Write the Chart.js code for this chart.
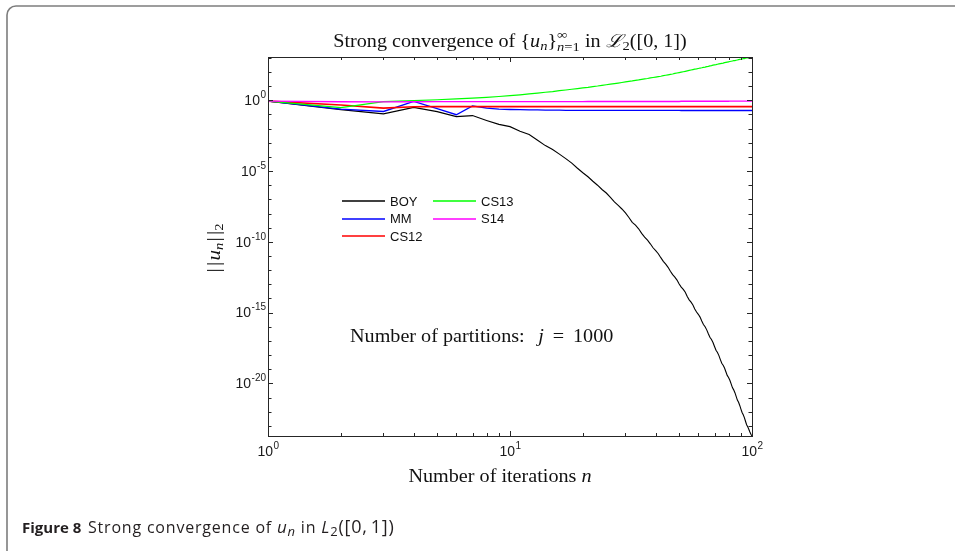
<!DOCTYPE html>
<html>
<head>
<meta charset="utf-8">
<script src="https://cdn.jsdelivr.net/npm/chart.js@4/dist/chart.umd.min.js"></script>
<style>
  html, body { margin: 0; padding: 0; background: #ffffff; }
  #wrap { width: 955px; height: 551px; position: relative; }
</style>
</head>
<body>
<div id="wrap"><canvas id="chart" width="955" height="551"></canvas></div>
<script>
// Iteration counts n = 1 .. 100
const iterations = [
  1, 2, 3, 4, 5, 6, 7, 8, 9, 10, 11, 12, 13, 14, 15, 16, 17, 18, 19, 20,
  21, 22, 23, 24, 25, 26, 27, 28, 29, 30, 31, 32, 33, 34, 35, 36, 37, 38, 39, 40,
  41, 42, 43, 44, 45, 46, 47, 48, 49, 50, 51, 52, 53, 54, 55, 56, 57, 58, 59, 60,
  61, 62, 63, 64, 65, 66, 67, 68, 69, 70, 71, 72, 73, 74, 75, 76, 77, 78, 79, 80,
  81, 82, 83, 84, 85, 86, 87, 88, 89, 90, 91, 92, 93, 94, 95, 96, 97, 98, 99, 100
];

// Norms ||u_n||_2 for each method, stored as decimal exponents (log10 of the norm)
const boyLog10 = [
  -0.06, -0.66, -0.96, -0.50, -0.80, -1.15, -1.08, -1.42, -1.70, -1.86,
  -2.18, -2.42, -2.82, -3.20, -3.48, -3.80, -4.12, -4.44, -4.80, -5.12,
  -5.40, -5.72, -6.00, -6.30, -6.55, -6.86, -7.18, -7.42, -7.68, -7.96,
  -8.28, -8.62, -8.82, -9.08, -9.40, -9.66, -9.88, -10.14, -10.42, -10.62,
  -10.84, -11.12, -11.38, -11.58, -11.80, -12.08, -12.32, -12.50, -12.70, -12.98,
  -13.20, -13.36, -13.56, -13.86, -14.10, -14.26, -14.46, -14.74, -14.96, -15.12,
  -15.32, -15.60, -15.84, -16.00, -16.22, -16.50, -16.74, -16.90, -17.12, -17.40,
  -17.66, -17.82, -18.04, -18.32, -18.58, -18.72, -18.92, -19.18, -19.44, -19.58,
  -19.78, -20.04, -20.30, -20.46, -20.66, -20.92, -21.18, -21.34, -21.56, -21.82,
  -22.06, -22.22, -22.42, -22.68, -22.92, -23.06, -23.24, -23.44, -23.60, -23.72
];
const mmLog10 = [
  -0.06, -0.62, -0.79, -0.08, -0.58, -1.02, -0.40, -0.55, -0.63, -0.65,
  -0.66, -0.67, -0.68, -0.69, -0.70, -0.70, -0.71, -0.71, -0.71, -0.71,
  -0.71, -0.71, -0.71, -0.71, -0.71, -0.71, -0.71, -0.71, -0.71, -0.71,
  -0.71, -0.71, -0.71, -0.71, -0.71, -0.71, -0.71, -0.71, -0.71, -0.71,
  -0.71, -0.71, -0.71, -0.71, -0.71, -0.71, -0.71, -0.71, -0.71, -0.71,
  -0.72, -0.72, -0.72, -0.72, -0.72, -0.72, -0.72, -0.72, -0.72, -0.72,
  -0.72, -0.72, -0.72, -0.72, -0.72, -0.72, -0.72, -0.72, -0.72, -0.72,
  -0.72, -0.72, -0.72, -0.72, -0.72, -0.72, -0.72, -0.72, -0.72, -0.72,
  -0.72, -0.72, -0.72, -0.72, -0.72, -0.72, -0.72, -0.72, -0.72, -0.72,
  -0.72, -0.72, -0.72, -0.72, -0.72, -0.72, -0.72, -0.72, -0.72, -0.72
];
const cs12Log10 = [
  -0.06, -0.33, -0.55, -0.46, -0.45, -0.45, -0.45, -0.45, -0.45, -0.45,
  -0.45, -0.45, -0.45, -0.45, -0.45, -0.45, -0.45, -0.45, -0.45, -0.45,
  -0.45, -0.45, -0.45, -0.45, -0.45, -0.45, -0.45, -0.45, -0.45, -0.45,
  -0.45, -0.45, -0.45, -0.45, -0.45, -0.45, -0.45, -0.45, -0.45, -0.45,
  -0.45, -0.45, -0.45, -0.45, -0.45, -0.45, -0.45, -0.45, -0.45, -0.45,
  -0.45, -0.45, -0.45, -0.45, -0.45, -0.45, -0.45, -0.45, -0.45, -0.45,
  -0.45, -0.45, -0.45, -0.45, -0.45, -0.45, -0.45, -0.45, -0.45, -0.45,
  -0.45, -0.45, -0.45, -0.45, -0.45, -0.45, -0.45, -0.45, -0.45, -0.45,
  -0.45, -0.45, -0.45, -0.45, -0.45, -0.45, -0.45, -0.45, -0.45, -0.45,
  -0.45, -0.45, -0.45, -0.45, -0.45, -0.45, -0.45, -0.45, -0.45, -0.45
];
const cs13Log10 = [
  -0.06, -0.52, -0.10, -0.02, 0.04, 0.10, 0.15, 0.21, 0.27, 0.33,
  0.39, 0.45, 0.51, 0.57, 0.62, 0.68, 0.73, 0.78, 0.83, 0.88,
  0.92, 0.97, 1.01, 1.06, 1.10, 1.14, 1.18, 1.22, 1.26, 1.30,
  1.34, 1.37, 1.41, 1.44, 1.48, 1.51, 1.54, 1.58, 1.61, 1.64,
  1.67, 1.70, 1.74, 1.77, 1.80, 1.83, 1.86, 1.90, 1.93, 1.96,
  1.99, 2.02, 2.05, 2.08, 2.11, 2.14, 2.17, 2.20, 2.22, 2.25,
  2.28, 2.30, 2.33, 2.35, 2.38, 2.40, 2.43, 2.45, 2.48, 2.50,
  2.52, 2.55, 2.57, 2.59, 2.61, 2.63, 2.66, 2.68, 2.70, 2.72,
  2.74, 2.76, 2.78, 2.80, 2.81, 2.83, 2.85, 2.87, 2.89, 2.90,
  2.92, 2.94, 2.95, 2.97, 2.99, 3.00, 3.02, 3.03, 3.05, 3.06
];
const s14Log10 = [
  -0.06, -0.10, -0.11, -0.10, -0.09, -0.09, -0.09, -0.09, -0.09, -0.09,
  -0.09, -0.09, -0.09, -0.09, -0.09, -0.09, -0.09, -0.09, -0.09, -0.09,
  -0.08, -0.08, -0.08, -0.08, -0.08, -0.08, -0.08, -0.08, -0.08, -0.08,
  -0.08, -0.08, -0.08, -0.08, -0.08, -0.08, -0.08, -0.08, -0.08, -0.08,
  -0.08, -0.08, -0.08, -0.08, -0.08, -0.08, -0.08, -0.08, -0.08, -0.08,
  -0.07, -0.07, -0.07, -0.07, -0.07, -0.07, -0.07, -0.07, -0.07, -0.07,
  -0.07, -0.07, -0.07, -0.07, -0.07, -0.07, -0.07, -0.07, -0.07, -0.07,
  -0.07, -0.07, -0.07, -0.07, -0.07, -0.07, -0.07, -0.07, -0.07, -0.07,
  -0.06, -0.06, -0.06, -0.06, -0.06, -0.06, -0.06, -0.06, -0.06, -0.06,
  -0.06, -0.06, -0.06, -0.06, -0.06, -0.06, -0.06, -0.06, -0.06, -0.06
];

const seriesNames = ['BOY', 'MM', 'CS12', 'CS13', 'S14'];
const seriesColors = ['#000000', '#0000ff', '#ff0000', '#00ff00', '#ff00ff'];
const seriesWidths = [1.1, 1.3, 1.6, 1.2, 1.4];

// Axis ranges (decimal exponents) and labelled tick exponents
const xRangeLog10 = [0, 2];
const yRangeLog10 = [-23.72, 3.06];
const xTickExponents = [0, 1, 2];
const yTickExponents = [0, -5, -10, -15, -20];

const seriesLog10 = [boyLog10, mmLog10, cs12Log10, cs13Log10, s14Log10];

const datasets = seriesNames.map((name, i) => ({
  label: name,
  data: iterations.map((n, k) => ({ x: n, y: Math.pow(10, seriesLog10[i][k]) })),
  borderColor: seriesColors[i],
  backgroundColor: seriesColors[i],
  borderWidth: seriesWidths[i],
  pointRadius: 0,
  tension: 0,
  fill: false,
  order: seriesNames.length - i
}));

const SERIF = '"Liberation Serif", "DejaVu Serif", serif';
const SANS = '"Liberation Sans", Arimo, "DejaVu Sans", sans-serif';
const CAPTION_SANS = '"Open Sans", "Noto Sans", ' + SANS;
// Computer-Modern-like proportions: slightly widened serif type
const SERIF_STRETCH = 1.12;

// Measure / draw a sequence of text runs (used for math-style labels)
function runsWidth(ctx, runs) {
  let w = 0;
  for (const r of runs) {
    if (r.gap) { w += r.gap; continue; }
    if (r.stack) {
      w += Math.max(runsWidth(ctx, r.stack[0]), runsWidth(ctx, r.stack[1]));
    } else {
      ctx.font = r.f;
      w += ctx.measureText(r.t).width;
    }
  }
  return w;
}
function drawRuns(ctx, runs, x, y) {
  for (const r of runs) {
    if (r.gap) { x += r.gap; continue; }
    if (r.stack) {
      const w = Math.max(runsWidth(ctx, r.stack[0]), runsWidth(ctx, r.stack[1]));
      drawRuns(ctx, r.stack[0], x, y);
      drawRuns(ctx, r.stack[1], x, y);
      x += w;
    } else {
      ctx.font = r.f;
      ctx.fillText(r.t, x, y + (r.dy || 0));
      x += ctx.measureText(r.t).width;
    }
  }
  return x;
}
// draw runs widened horizontally; anchor 'center' or 'left'
function drawStretched(ctx, runs, x, y, anchor) {
  const w = runsWidth(ctx, runs);
  ctx.save();
  ctx.translate(x, y);
  ctx.scale(SERIF_STRETCH, 1);
  drawRuns(ctx, runs, anchor === 'center' ? -w / 2 : 0, 0);
  ctx.restore();
}

const figurePlugin = {
  id: 'figureDecor',
  beforeDraw(chart) {
    const ctx = chart.ctx;
    ctx.save();
    ctx.fillStyle = '#ffffff';
    ctx.fillRect(0, 0, chart.width, chart.height);
    // panel frame: left edge and top edge with a rounded corner
    const r = 9, fx = 7, fy = 6;
    ctx.strokeStyle = '#7d7d7d';
    ctx.lineWidth = 1.6;
    ctx.beginPath();
    ctx.moveTo(fx, chart.height + 2);
    ctx.lineTo(fx, fy + r);
    ctx.arcTo(fx, fy, fx + r, fy, r);
    ctx.lineTo(chart.width + 2, fy);
    ctx.stroke();
    ctx.restore();
  },
  afterDatasetsDraw(chart) {
    const ctx = chart.ctx;
    const xs = chart.scales.x, ys = chart.scales.y;
    const a = chart.chartArea;
    ctx.save();

    // axes box
    ctx.strokeStyle = '#262626';
    ctx.lineWidth = 1;
    ctx.strokeRect(Math.round(a.left) + 0.5, Math.round(a.top) + 0.5,
                   Math.round(a.right - a.left), Math.round(a.bottom - a.top));

    // y ticks: one per decade, longer at labelled decades
    ctx.beginPath();
    for (let e = Math.ceil(yRangeLog10[0]); e <= Math.floor(yRangeLog10[1]); e++) {
      const y = Math.round(ys.getPixelForValue(Math.pow(10, e))) + 0.5;
      const len = yTickExponents.includes(e) ? 5 : 3.5;
      ctx.moveTo(a.left, y); ctx.lineTo(a.left + len, y);
      ctx.moveTo(a.right, y); ctx.lineTo(a.right - len, y);
    }
    // x ticks: 1..9 per decade
    for (let d = xRangeLog10[0]; d < xRangeLog10[1]; d++) {
      for (let m = 1; m <= 9; m++) {
        const v = m * Math.pow(10, d);
        const x = Math.round(xs.getPixelForValue(v)) + 0.5;
        const len = m === 1 ? 5 : 3;
        ctx.moveTo(x, a.bottom); ctx.lineTo(x, a.bottom - len);
        ctx.moveTo(x, a.top); ctx.lineTo(x, a.top + len);
      }
    }
    ctx.stroke();

    // tick labels
    ctx.fillStyle = '#1a1a1a';
    ctx.textBaseline = 'middle';
    const baseFont = '14px ' + SANS, supFont = '10px ' + SANS;
    for (const e of yTickExponents) {
      const y = ys.getPixelForValue(Math.pow(10, e));
      const sup = String(e);
      ctx.font = supFont;
      const sw = ctx.measureText(sup).width;
      const xEnd = a.left - 2;
      ctx.textAlign = 'left';
      ctx.fillText(sup, xEnd - sw, y - 5);
      ctx.font = baseFont;
      ctx.textAlign = 'right';
      ctx.fillText('10', xEnd - sw - 0.5, y + 1);
    }
    for (const e of xTickExponents) {
      const x = xs.getPixelForValue(Math.pow(10, e));
      const sup = String(e);
      ctx.font = supFont;
      const sw = ctx.measureText(sup).width;
      ctx.font = baseFont;
      const bw = ctx.measureText('10').width;
      const x0 = x - (bw + sw) / 2;
      ctx.textAlign = 'left';
      ctx.fillText('10', x0, a.bottom + 16);
      ctx.font = supFont;
      ctx.fillText(sup, x0 + bw + 0.5, a.bottom + 10);
    }

    // title
    ctx.fillStyle = '#111111';
    ctx.textBaseline = 'alphabetic';
    ctx.textAlign = 'left';
    const R = '18px ' + SERIF, I = 'italic 18px ' + SERIF;
    const S = '13px ' + SERIF, SI = 'italic 13px ' + SERIF;
    const titleRuns = [
      { t: 'Strong convergence of {', f: R },
      { t: 'u', f: I }, { t: 'n', f: SI, dy: 3 },
      { t: '}', f: R },
      { stack: [[{ t: '\u221E', f: S, dy: -8 }], [{ t: 'n', f: SI, dy: 4 }, { t: '=1', f: S, dy: 4 }]] },
      { t: ' in ', f: R },
      { t: '\u2112', f: I }, { t: '2', f: S, dy: 3 },
      { t: '([0, 1])', f: R }
    ];
    const cx = (a.left + a.right) / 2;
    drawStretched(ctx, titleRuns, cx, 47, 'center');

    // x axis title
    const xTitle = [{ t: 'Number of iterations ', f: R }, { t: 'n', f: I }];
    drawStretched(ctx, xTitle, cx - 10, 482, 'center');

    // y axis title (rotated)
    const YR = '19px ' + SERIF, YI = 'italic 19px ' + SERIF, YS = '13px ' + SERIF, YSI = 'italic 13px ' + SERIF;
    const yTitle = [
      { t: '|', f: YR }, { gap: 2 }, { t: '|', f: YR }, { gap: 1 },
      { t: 'u', f: YI }, { t: 'n', f: YSI, dy: 3 }, { gap: 1 },
      { t: '|', f: YR }, { gap: 2 }, { t: '|', f: YR },
      { t: '2', f: YS, dy: 3 }
    ];
    ctx.save();
    ctx.translate(220, 248);
    ctx.rotate(-Math.PI / 2);
    drawStretched(ctx, yTitle, 0, 0, 'center');
    ctx.restore();

    // annotation
    const note = [
      { t: 'Number of partitions:', f: R }, { gap: 12 },
      { t: 'j', f: I }, { gap: 8 }, { t: '=', f: R }, { gap: 8 }, { t: '1000', f: R }
    ];
    drawStretched(ctx, note, 350, 342, 'left');

    // legend (two columns)
    const legendSlots = [
      { x: 342, y: 201 }, { x: 342, y: 218.5 }, { x: 342, y: 236 },
      { x: 433, y: 201 }, { x: 433, y: 218.5 }
    ];
    ctx.font = '13px ' + SANS;
    ctx.textBaseline = 'middle';
    chart.data.datasets.forEach((ds, i) => {
      const s = legendSlots[i];
      ctx.strokeStyle = ds.borderColor;
      ctx.lineWidth = 1.7;
      ctx.beginPath();
      ctx.moveTo(s.x, Math.round(s.y)); ctx.lineTo(s.x + 43, Math.round(s.y));
      ctx.stroke();
      ctx.fillStyle = '#111111';
      ctx.fillText(ds.label, s.x + 48, s.y + 1);
    });

    // figure caption
    ctx.textBaseline = 'alphabetic';
    ctx.fillStyle = '#231f20';
    ctx.font = 'bold 15px ' + CAPTION_SANS;
    ctx.fillText('Figure 8', 22, 533);
    const CF = '16px ' + CAPTION_SANS, CI = 'italic 17px ' + CAPTION_SANS;
    const CS = '13px ' + CAPTION_SANS, CSI = 'italic 13px ' + CAPTION_SANS;
    const CM = '18px ' + CAPTION_SANS;
    const caption = [
      { t: 'Strong convergence of ', f: CF },
      { t: 'u', f: CI }, { t: 'n', f: CSI, dy: 3 },
      { t: ' in ', f: CF },
      { t: 'L', f: CI }, { t: '2', f: CS, dy: 3 },
      { t: '([0,', f: CM }, { gap: 3 }, { t: '1])', f: CM }
    ];
    if ('letterSpacing' in ctx) ctx.letterSpacing = '0.8px';
    drawRuns(ctx, caption, 88, 533);
    if ('letterSpacing' in ctx) ctx.letterSpacing = '0px';

    ctx.restore();
  }
};

new Chart(document.getElementById('chart'), {
  type: 'line',
  data: { datasets },
  options: {
    responsive: false,
    animation: false,
    devicePixelRatio: 1,
    layout: { padding: { left: 268, right: 203, top: 57, bottom: 115 } },
    plugins: { legend: { display: false }, tooltip: { enabled: false }, title: { display: false } },
    scales: {
      x: { type: 'logarithmic', display: false, min: Math.pow(10, xRangeLog10[0]), max: Math.pow(10, xRangeLog10[1]) },
      y: { type: 'logarithmic', display: false, min: Math.pow(10, yRangeLog10[0]), max: Math.pow(10, yRangeLog10[1]) }
    }
  },
  plugins: [figurePlugin]
});
</script>
</body>
</html>
